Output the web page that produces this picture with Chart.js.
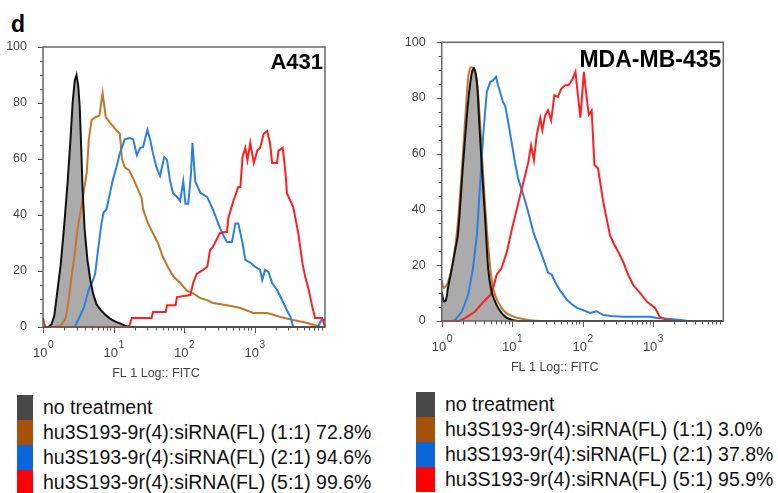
<!DOCTYPE html>
<html>
<head>
<meta charset="utf-8">
<title>FACS histograms</title>
<script src="https://cdn.jsdelivr.net/npm/chart.js@4.4.0/dist/chart.umd.min.js"></script>
<style>
    body {
        margin: 0;
        background: #fff;
        width: 778px;
        height: 493px;
        position: relative;
        overflow: hidden;
        font-family: "Liberation Sans", Arial, sans-serif;
    }
    .panel { position: absolute; top: 0; }
    .fig-letter {
        position: absolute;
        left: 11px;
        top: 13px;
        font-size: 23px;
        font-weight: bold;
        line-height: 1;
        color: #000;
    }
    .legend { position: absolute; }
    .legend-row { position: relative; height: 25px; }
    .legend-row .swatch { position: absolute; left: 0; top: 0; height: 25px; }
    .legend-row span {
        position: absolute;
        top: 0;
        white-space: nowrap;
        line-height: 25px;
        font-size: 19.5px;
        color: #111;
    }
</style>
</head>
<body>
<div class="fig-letter">d</div>
<canvas id="a431Chart" class="panel" width="345" height="390" style="left:0px"></canvas>
<canvas id="mdaChart" class="panel" width="345" height="390" style="left:398px"></canvas>
<div id="a431Legend" class="legend" style="left:17px; top:395px"></div>
<div id="mdaLegend" class="legend" style="left:416px; top:392px"></div>

<script>
// x values are log10(FL1), so 0..4 means 10^0..10^4
const decades = [0, 1, 2, 3];
const yMajorTicks = [0, 20, 40, 60, 80, 100];

// A431 histograms [log10 FL1, count]
const a431NoTreatment = [[0, 0], [0.08, 0], [0.12, 1], [0.16, 4], [0.2, 12], [0.25, 22], [0.3, 36], [0.35, 52], [0.39, 67], [0.42, 80], [0.45, 88], [0.475, 90], [0.5, 86], [0.52, 79], [0.545, 62], [0.56, 50], [0.59, 35], [0.63, 24], [0.67, 17], [0.71, 12], [0.76, 8], [0.82, 6], [0.88, 4.5], [0.95, 3], [1.02, 2], [1.09, 1.3], [1.16, 0.5], [1.23, 0], [4, 0]];
const a431Ratio1 = [[0, 0], [0.15, 0], [0.25, 0.5], [0.32, 3], [0.36, 9], [0.4, 17], [0.45, 26], [0.49, 35], [0.55, 44], [0.62, 55], [0.65, 67], [0.69, 74], [0.75, 75], [0.8, 75.5], [0.845, 83.5], [0.89, 75], [0.95, 73], [1.0, 71.5], [1.05, 70], [1.09, 69], [1.12, 60], [1.16, 57], [1.22, 56], [1.27, 53.5], [1.35, 49], [1.4, 46], [1.42, 42], [1.49, 37], [1.56, 33.5], [1.63, 30], [1.7, 25], [1.77, 21.5], [1.85, 18], [1.95, 15.7], [2.04, 13], [2.13, 12], [2.23, 10.3], [2.33, 9.6], [2.41, 8.6], [2.61, 7.8], [2.8, 6.8], [2.98, 5], [3.18, 5], [3.37, 3.6], [3.55, 2.5], [3.75, 1.4], [3.94, 0], [4, 0]];
const a431Ratio2 = [[0, 0], [0.45, 0], [0.52, 3.6], [0.58, 7], [0.62, 10.7], [0.66, 14.3], [0.7, 16], [0.74, 19], [0.78, 27.5], [0.83, 37], [0.86, 41], [0.9, 42], [0.95, 47.8], [0.99, 52.5], [1.04, 57], [1.09, 62], [1.16, 67], [1.23, 67.5], [1.28, 67], [1.33, 61.4], [1.38, 64], [1.42, 64.3], [1.48, 70.4], [1.52, 67], [1.56, 62], [1.61, 57], [1.66, 54], [1.72, 60.7], [1.76, 59.6], [1.8, 52.5], [1.845, 47.8], [1.9, 46.5], [1.945, 45], [1.99, 52], [2.02, 44], [2.06, 44], [2.1, 55], [2.12, 65.7], [2.16, 52], [2.23, 48], [2.33, 46.4], [2.41, 42], [2.485, 37], [2.54, 33.6], [2.61, 30.4], [2.68, 30.4], [2.73, 37], [2.77, 37], [2.83, 30], [2.87, 24], [2.94, 23], [3.01, 21.5], [3.08, 20.4], [3.11, 16.8], [3.15, 20.4], [3.2, 19.6], [3.25, 15.7], [3.32, 13.2], [3.37, 10.7], [3.41, 8.6], [3.46, 6], [3.51, 3.6], [3.55, 0], [3.9, 0], [3.95, 2.5], [4, 2.5]];
const a431Ratio5 = [[0, 3.2], [0.03, 0], [1.22, 0], [1.26, 3.2], [1.54, 3.2], [1.56, 5.4], [1.74, 5.4], [1.76, 7.8], [1.88, 7.8], [1.9, 10.7], [2.09, 11.4], [2.13, 15.7], [2.18, 19], [2.27, 20.4], [2.33, 21.5], [2.37, 27.5], [2.41, 28.6], [2.51, 33.6], [2.61, 34], [2.63, 39], [2.7, 45], [2.77, 50], [2.8, 50], [2.83, 60.7], [2.87, 64], [2.9, 59.6], [2.94, 65.7], [2.99, 58.6], [3.04, 63], [3.08, 64], [3.13, 69], [3.18, 70], [3.22, 65.7], [3.25, 58.6], [3.32, 58.6], [3.34, 63], [3.4, 64], [3.41, 62], [3.44, 55], [3.46, 47.8], [3.51, 45], [3.55, 42.8], [3.62, 33.6], [3.68, 22.8], [3.72, 17.9], [3.77, 13.2], [3.82, 7.1], [3.86, 3.2], [3.96, 3.2], [4, 0]];

// MDA-MB-435 histograms [log10 FL1, count]
const mdaNoTreatment = [[0, 10.5], [0.03, 7], [0.06, 7.5], [0.09, 12], [0.13, 17], [0.18, 24], [0.23, 31], [0.3, 55], [0.375, 78.5], [0.43, 89.4], [0.46, 90.7], [0.5, 85.8], [0.53, 72.8], [0.57, 55], [0.62, 35.5], [0.66, 19], [0.71, 10.5], [0.78, 5.7], [0.85, 2.9], [0.92, 1.2], [1.0, 0.4], [1.1, 0], [4, 0]];
const mdaRatio1 = [[0, 14.7], [0.03, 11.8], [0.09, 14], [0.16, 21], [0.23, 35.5], [0.3, 59.5], [0.375, 87], [0.41, 91], [0.445, 90.7], [0.5, 85.8], [0.545, 71.3], [0.59, 52], [0.64, 33.3], [0.69, 19], [0.73, 11.8], [0.8, 6.8], [0.9, 3.2], [1.04, 1.4], [1.23, 0.4], [1.4, 0], [4, 0]];
const mdaRatio2 = [[0, 0], [0.15, 0], [0.19, 0.4], [0.285, 3.3], [0.375, 9.3], [0.445, 19], [0.5, 30.8], [0.545, 48.7], [0.59, 66.7], [0.64, 82.2], [0.69, 85.8], [0.73, 86.4], [0.77, 87.6], [0.8, 84.6], [0.85, 80.4], [0.87, 78.5], [0.9, 77.4], [0.945, 71.4], [1.0, 63], [1.04, 57], [1.085, 51.2], [1.16, 45.2], [1.23, 39], [1.3, 32], [1.37, 27.2], [1.44, 22.5], [1.51, 17.4], [1.565, 16.5], [1.61, 14], [1.68, 11], [1.71, 10], [1.78, 7.5], [1.85, 6], [1.92, 4.7], [2.01, 3.9], [2.11, 2.9], [2.2, 3.5], [2.29, 2.2], [2.4, 1.8], [2.58, 1.5], [2.96, 1.5], [3.06, 1.1], [3.25, 0.7], [3.39, 0.4], [3.5, 0], [4, 0]];
const mdaRatio5 = [[0, 0], [0.25, 0], [0.33, 1], [0.47, 3.3], [0.59, 6.8], [0.69, 9.3], [0.73, 11.8], [0.78, 16.5], [0.85, 19], [0.925, 24.7], [1.0, 33.3], [1.07, 40.5], [1.14, 47.7], [1.185, 52.3], [1.23, 57], [1.27, 63], [1.31, 57.7], [1.35, 66.7], [1.4, 72.8], [1.43, 68.5], [1.47, 73.8], [1.51, 75.6], [1.555, 72], [1.6, 81], [1.65, 80.4], [1.7, 83.4], [1.755, 84.6], [1.8, 84.6], [1.85, 86.4], [1.9, 89.4], [1.935, 81], [1.97, 73], [2.02, 89.4], [2.06, 80], [2.09, 74], [2.13, 75.5], [2.17, 56], [2.22, 54.8], [2.295, 42.7], [2.39, 30.8], [2.44, 28], [2.51, 24.7], [2.58, 21.1], [2.65, 16.5], [2.72, 12.9], [2.82, 10], [2.92, 6.8], [3.03, 4.7], [3.1, 1.4], [3.2, 0.4], [3.3, 0], [4, 0]];

const a431Labels = ['no treatment', 'hu3S193-9r(4):siRNA(FL) (1:1) 72.8%', 'hu3S193-9r(4):siRNA(FL) (2:1) 94.6%', 'hu3S193-9r(4):siRNA(FL) (5:1) 99.6%'];
const mdaLabels = ['no treatment', 'hu3S193-9r(4):siRNA(FL) (1:1) 3.0%', 'hu3S193-9r(4):siRNA(FL) (2:1) 37.8%', 'hu3S193-9r(4):siRNA(FL) (5:1) 95.9%'];
const swatchColors = ['#484848', '#a65108', '#0b66d9', '#ff0000'];

const FONT = '"Liberation Sans", Arial, sans-serif';

// frame, tick marks, 10^n labels, axis title and panel name
const facsFrame = {
    id: 'facsFrame',
    afterDraw(chart, args, opts) {
        const ctx = chart.ctx;
        const a = chart.chartArea;
        const xs = chart.scales.x;
        const ys = chart.scales.y;
        ctx.save();

        ctx.strokeStyle = '#666';
        ctx.lineWidth = 1.5;
        ctx.strokeRect(a.left, a.top, a.right - a.left, a.bottom - a.top);

        ctx.strokeStyle = '#555';
        ctx.lineWidth = 1;
        for (let v = 0; v <= 100; v += 5) {
            const y = Math.round(ys.getPixelForValue(v)) + 0.5;
            const len = v % 20 === 0 ? 5 : 3;
            ctx.beginPath();
            ctx.moveTo(a.left - len, y);
            ctx.lineTo(a.left, y);
            ctx.stroke();
        }
        for (let n = 0; n < 4; n++) {
            for (let k = 1; k <= 9; k++) {
                const x = Math.round(xs.getPixelForValue(n + Math.log10(k))) + 0.5;
                const len = k === 1 ? 6 : 3.5;
                ctx.beginPath();
                ctx.moveTo(x, a.bottom);
                ctx.lineTo(x, a.bottom + len);
                ctx.stroke();
            }
        }

        // decade labels with superscript exponent
        ctx.fillStyle = '#444';
        ctx.textBaseline = 'alphabetic';
        decades.forEach(n => {
            const x = xs.getPixelForValue(n);
            ctx.font = '13px ' + FONT;
            const baseW = ctx.measureText('10').width;
            ctx.font = '10px ' + FONT;
            const expW = ctx.measureText(String(n)).width;
            const start = x - (baseW + expW) / 2;
            ctx.font = '13px ' + FONT;
            ctx.textAlign = 'left';
            ctx.fillText('10', start, a.bottom + 30);
            ctx.font = '10px ' + FONT;
            ctx.fillText(String(n), start + baseW + 0.5, a.bottom + 21);
        });

        ctx.font = '12.5px ' + FONT;
        ctx.textAlign = 'center';
        ctx.fillText('FL 1 Log:: FITC', a.left + 113, a.bottom + 50);

        ctx.fillStyle = '#000';
        ctx.font = 'bold ' + opts.titleSize + 'px ' + FONT;
        ctx.textAlign = 'right';
        ctx.fillText(opts.title, a.right - 2, a.top + opts.titleDrop);
        ctx.restore();
    }
};

function toPoints(arr) {
    return arr.map(p => ({ x: p[0], y: p[1] }));
}

function buildPanel(canvasId, series, opts) {
    const smooth = opts.smooth ? 0.3 : 0;
    const ctx = document.getElementById(canvasId).getContext('2d');
    return new Chart(ctx, {
        type: 'line',
        data: {
            datasets: [
                { data: toPoints(series[0]), borderColor: '#111', tension: smooth },
                { data: toPoints(series[3]), borderColor: '#ff1f1f' },
                { data: toPoints(series[2]), borderColor: '#2a7fe3' },
                { data: toPoints(series[1]), borderColor: '#c4752c', tension: smooth },
                // grey area under the untreated control
                { data: toPoints(series[0]), borderColor: 'rgba(0,0,0,0)', backgroundColor: '#ababab', fill: 'origin', tension: smooth }
            ]
        },
        plugins: [facsFrame],
        options: {
            responsive: false,
            animation: false,
            layout: { padding: opts.padding },
            elements: {
                point: { radius: 0 },
                line: { borderWidth: 2, tension: 0 }
            },
            datasets: { line: { clip: 3 } },
            plugins: {
                legend: { display: false },
                tooltip: { enabled: false },
                facsFrame: { title: opts.title, titleSize: opts.titleSize, titleDrop: opts.titleDrop }
            },
            scales: {
                x: { type: 'linear', min: 0, max: 4, display: false },
                y: {
                    min: 0,
                    max: 100,
                    grid: { display: false },
                    border: { display: false },
                    afterBuildTicks: scale => {
                        scale.ticks = yMajorTicks.map(v => ({ value: v }));
                    },
                    afterFit: scale => {
                        scale.width = opts.axisWidth;
                    },
                    ticks: {
                        color: '#444',
                        padding: 8,
                        font: { size: 12.5, family: FONT }
                    }
                }
            }
        }
    });
}

function buildLegend(id, labels) {
    const box = document.getElementById(id);
    const swatchWidth = id === 'mdaLegend' ? 19 : 16;
    const textLeft = id === 'mdaLegend' ? 29 : 26;
    labels.forEach((label, i) => {
        const row = document.createElement('div');
        row.className = 'legend-row';
        const sw = document.createElement('div');
        sw.className = 'swatch';
        sw.style.width = swatchWidth + 'px';
        sw.style.background = swatchColors[i];
        const text = document.createElement('span');
        text.style.left = textLeft + 'px';
        text.textContent = label;
        row.appendChild(sw);
        row.appendChild(text);
        box.appendChild(row);
    });
}

document.addEventListener('DOMContentLoaded', function() {
    buildPanel('a431Chart', [a431NoTreatment, a431Ratio1, a431Ratio2, a431Ratio5], {
        title: 'A431',
        titleSize: 22,
        titleDrop: 22,
        axisWidth: 43,
        smooth: false,
        padding: { top: 47, right: 20, bottom: 63, left: 0 }
    });
    buildPanel('mdaChart', [mdaNoTreatment, mdaRatio1, mdaRatio2, mdaRatio5], {
        title: 'MDA-MB-435',
        titleSize: 23,
        titleDrop: 25,
        axisWidth: 43.7,
        smooth: true,
        padding: { top: 42.3, right: 19.7, bottom: 69, left: 0 }
    });
    buildLegend('a431Legend', a431Labels);
    buildLegend('mdaLegend', mdaLabels);
});
</script>
</body>
</html>
